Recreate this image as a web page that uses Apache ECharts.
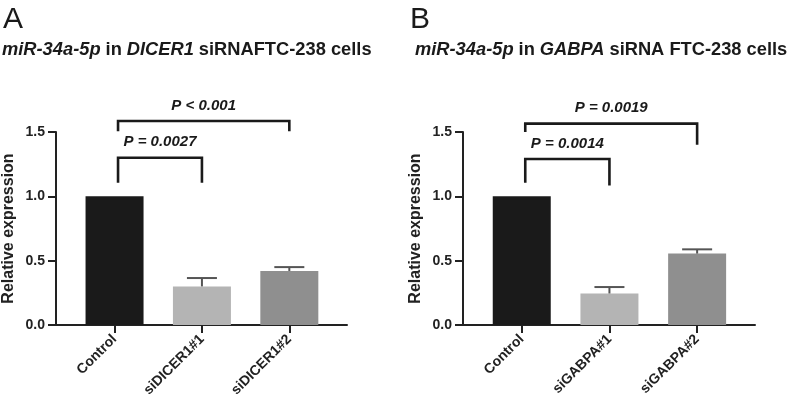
<!DOCTYPE html>
<html>
<head>
<meta charset="utf-8">
<style>
html,body{margin:0;padding:0;background:#fff;}
#chart{width:793px;height:408px;}
</style>
<script src="https://cdn.jsdelivr.net/npm/echarts@6/dist/echarts.min.js"></script>
</head>
<body>
<div id="chart"></div>
<script>
// ---- Data ----
var categoriesA = ['Control', 'siDICER1#1', 'siDICER1#2'];
var valuesA = [1.0, 0.30, 0.42];
var errorsA = [0, 0.065, 0.03];
// brackets: [fromIndex, toIndex, barY, leftLegBottom, rightLegBottom, label]
var bracketsA = [
  [0, 1, 1.30, 1.105, 1.105, 'P = 0.0027'],
  [0, 2, 1.585, 1.505, 1.505, 'P < 0.001']
];

var categoriesB = ['Control', 'siGABPA#1', 'siGABPA#2'];
var valuesB = [1.0, 0.245, 0.555];
var errorsB = [0, 0.05, 0.033];
var bracketsB = [
  [0, 1, 1.29, 1.105, 1.085, 'P = 0.0014'],
  [0, 2, 1.565, 1.50, 1.40, 'P = 0.0019']
];

var yTicks = [0, 0.5, 1.0, 1.5];

// ---- Styles ----
var barColors = ['#1a1a1a', '#b4b4b4', '#8f8f8f'];
var FONT = 'Liberation Sans, Arial, Helvetica, sans-serif';
var AX = '#222222';

var chart = echarts.init(document.getElementById('chart'), null, {renderer: 'canvas'});

function xAxisDef(gridIndex, cats) {
  return {
    type: 'value', gridIndex: gridIndex, min: -0.67, max: 2.66,
    splitLine: {show: false},
    axisLine: {show: true, onZero: false, lineStyle: {color: AX, width: 2}},
    axisTick: {show: true, customValues: [0, 1, 2], length: 8, lineStyle: {color: AX, width: 2}},
    axisLabel: {
      show: true, customValues: [0, 1, 2], rotate: 45, margin: 12,
      fontFamily: FONT, fontWeight: 'bold', fontSize: 14, color: AX,
      formatter: function (v) { return cats[Math.round(v)] || ''; }
    }
  };
}
function yAxisDef(gridIndex) {
  return {
    type: 'value', gridIndex: gridIndex, min: 0, max: 1.5, interval: 0.5,
    splitLine: {show: false},
    axisLine: {show: true, onZero: false, lineStyle: {color: AX, width: 2}},
    axisTick: {show: true, length: 8, lineStyle: {color: AX, width: 2}},
    axisLabel: {
      margin: 11, fontFamily: FONT, fontWeight: 'bold', fontSize: 14, color: AX,
      formatter: function (v) { return v.toFixed(1); }
    },
    name: 'Relative expression', nameLocation: 'middle', nameGap: 39,
    nameTextStyle: {fontFamily: FONT, fontWeight: 'bold', fontSize: 16, color: AX}
  };
}

function barSeries(idx, vals) {
  return {
    type: 'bar', xAxisIndex: idx, yAxisIndex: idx, barWidth: 58,
    data: vals.map(function (v, i) {
      return {value: [i, v], itemStyle: {color: barColors[i]}};
    }),
    silent: true
  };
}

function errSeries(idx, vals, errs) {
  return {
    type: 'custom', xAxisIndex: idx, yAxisIndex: idx, silent: true, z: 3,
    data: vals.map(function (v, i) { return [i, v, v + errs[i]]; }).filter(function (d, i) { return errs[i] > 0; }),
    renderItem: function (params, api) {
      var p0 = api.coord([api.value(0), api.value(1)]);
      var p1 = api.coord([api.value(0), api.value(2)]);
      var cap = 15;
      return {
        type: 'group',
        children: [
          {type: 'line', shape: {x1: p0[0], y1: p0[1], x2: p1[0], y2: p1[1]}, style: {stroke: '#555', lineWidth: 2}},
          {type: 'line', shape: {x1: p1[0] - cap, y1: p1[1], x2: p1[0] + cap, y2: p1[1]}, style: {stroke: '#555', lineWidth: 2}}
        ]
      };
    }
  };
}

function bracketSeries(idx, brs) {
  return {
    type: 'custom', xAxisIndex: idx, yAxisIndex: idx, silent: true, z: 4, clip: false,
    data: brs.map(function (b) { return [b[0] + 0.04, b[1], b[2], b[3], b[4], b[5]]; }),
    renderItem: function (params, api) {
      var b = brs[params.dataIndex];
      var x1 = api.coord([b[0] + 0.04, b[2]])[0];
      var x2 = api.coord([b[1], b[2]])[0];
      var yTop = api.coord([0, b[2]])[1];
      var yL = api.coord([0, b[3]])[1];
      var yR = api.coord([0, b[4]])[1];
      return {
        type: 'group',
        children: [
          {type: 'polyline', shape: {points: [[x1, yL], [x1, yTop], [x2, yTop], [x2, yR]]},
            style: {stroke: '#1a1a1a', lineWidth: 2.6, fill: null}},
          {type: 'text', x: (x1 + x2) / 2, y: yTop - 8,
            style: {text: b[5], fontFamily: FONT, fontWeight: 'bold', fontStyle: 'italic', fontSize: 15,
              fill: '#1a1a1a', align: 'center', verticalAlign: 'bottom'}}
        ]
      };
    }
  };
}

var richT = {
  i: {fontFamily: FONT, fontWeight: 'bold', fontStyle: 'italic', fontSize: 18.3, color: '#1a1a1a'},
  b: {fontFamily: FONT, fontWeight: 'bold', fontSize: 18.3, color: '#1a1a1a'}
};

var option = {
  backgroundColor: '#ffffff',
  animation: false,
  title: [
    {text: 'A', left: -2, top: 0, textStyle: {fontFamily: FONT, fontWeight: 'normal', fontSize: 30, color: '#1a1a1a'}},
    {text: 'B', left: 405, top: 0, textStyle: {fontFamily: FONT, fontWeight: 'normal', fontSize: 30, color: '#1a1a1a'}},
    {text: '{i|miR-34a-5p} {b|in} {i|DICER1} {b|siRNAFTC-238 cells}', left: -3, top: 36, textStyle: {rich: richT}},
    {text: '{i|miR-34a-5p} {b|in} {i|GABPA} {b|siRNA FTC-238 cells}', left: 410, top: 36, textStyle: {rich: richT}}
  ],
  grid: [
    {left: 55, right: 446, top: 132, bottom: 83, containLabel: false},
    {left: 463, right: 38, top: 132, bottom: 83, containLabel: false}
  ],
  xAxis: [xAxisDef(0, categoriesA), xAxisDef(1, categoriesB)],
  yAxis: [yAxisDef(0), yAxisDef(1)],
  series: [
    barSeries(0, valuesA), errSeries(0, valuesA, errorsA), bracketSeries(0, bracketsA),
    barSeries(1, valuesB), errSeries(1, valuesB, errorsB), bracketSeries(1, bracketsB)
  ]
};
chart.setOption(option);
</script>
</body>
</html>
